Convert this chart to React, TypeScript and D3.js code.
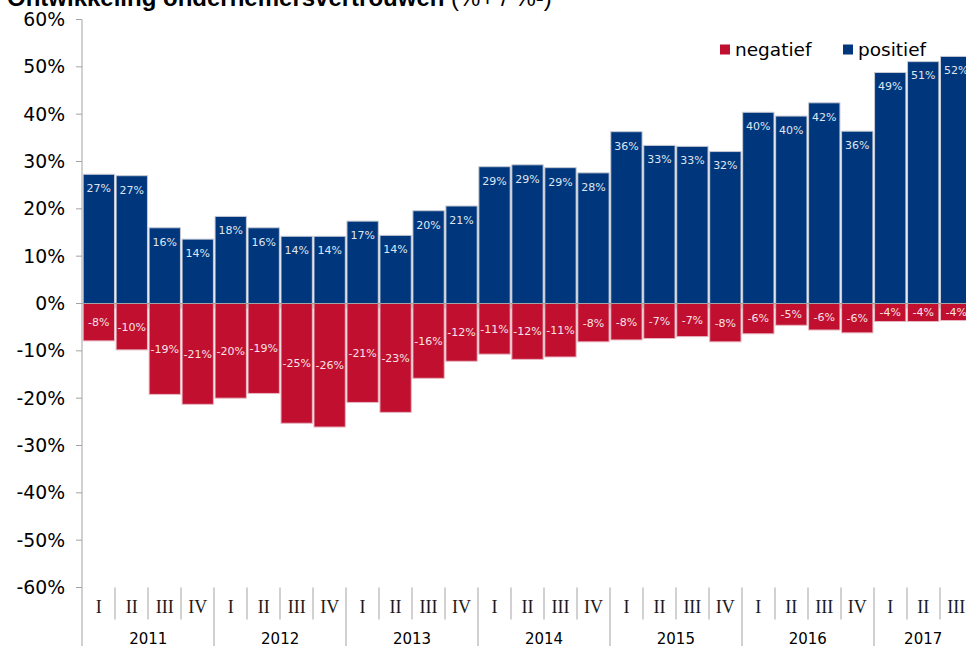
import React from 'react';
import * as d3 from 'd3';

const years = ['2011', '2012', '2013', '2014', '2015', '2016', '2017'];
const quarters = ['I', 'II', 'III', 'IV'];
// 2011-I t/m 2017-III
const positief = [
  27.3, 27.0, 16.0, 13.6, 18.4, 16.0, 14.2, 14.2, 17.4, 14.4, 19.6, 20.6,
  28.9, 29.3, 28.7, 27.6, 36.3, 33.4, 33.2, 32.1, 40.4, 39.6, 42.4, 36.4,
  48.8, 51.1, 52.2,
];
const negatief = [
  -7.9, -9.8, -19.2, -21.3, -20.0, -19.0, -25.3, -26.1, -20.9, -23.0, -15.8, -12.2,
  -10.7, -11.8, -11.3, -8.1, -7.7, -7.4, -7.0, -8.1, -6.4, -4.6, -5.6, -6.2,
  -3.8, -3.8, -3.6,
];
const yTicks = [60, 50, 40, 30, 20, 10, 0, -10, -20, -30, -40, -50, -60];

const BLUE = '#00377c';
const RED = '#c10f2f';
const AXIS = '#a3a3a3';

const periods = positief.map((_, i) => ({
  key: `${years[Math.floor(i / 4)]}-${quarters[i % 4]}`,
  year: years[Math.floor(i / 4)],
  q: quarters[i % 4],
  pos: positief[i],
  neg: negatief[i],
}));

export default function App() {
  const width = 966;
  const height = 646;
  const left = 82;
  const step = 33;

  const x = d3
    .scaleBand<string>()
    .domain(periods.map(d => d.key))
    .range([left, left + step * periods.length])
    .paddingInner(0.05)
    .paddingOuter(0.035);

  const y = d3.scaleLinear().domain([-60, 60]).range([587.5, 19.5]);
  const fmt = (v: number) => `${Math.round(v)}%`;
  const axisBottom = 587.5;

  const yearGroups = d3.groups(periods, d => d.year);

  return (
    <svg
      width={width}
      height={height}
      style={{ position: 'absolute', left: 0, top: 0, background: '#fff' }}
    >
      {/* titel, bovenkant valt buiten beeld */}
      <text x={7} y={5.5} fontFamily="Liberation Sans, Arial, sans-serif" fontSize={24} fill="#000">
        <tspan fontWeight="bold">Ontwikkeling ondernemersvertrouwen</tspan>
        <tspan> (%+ / %-)</tspan>
      </text>

      {/* y-as */}
      <line x1={left} x2={left} y1={y(60)} y2={height} stroke={AXIS} />
      {yTicks.map(t => (
        <g key={t}>
          <line x1={left - 6} x2={left} y1={y(t)} y2={y(t)} stroke={AXIS} />
          <text
            x={65}
            y={y(t)}
            dy="0.35em"
            textAnchor="end"
            fontFamily="DejaVu Sans, Verdana, sans-serif"
            fontSize={18.8}
            fill="#000"
          >
            {t}%
          </text>
        </g>
      ))}

      {/* balken */}
      {periods.map(d => (
        <g key={d.key}>
          <rect
            x={x(d.key)}
            y={y(d.pos)}
            width={x.bandwidth()}
            height={y(0) - y(d.pos)}
            fill={BLUE}
            stroke="#c6cad4"
            strokeWidth={1}
          />
          <rect
            x={x(d.key)}
            y={y(0)}
            width={x.bandwidth()}
            height={y(d.neg) - y(0)}
            fill={RED}
            stroke="#e6b8c2"
            strokeWidth={1}
          />
        </g>
      ))}

      {/* nullijn met streepjes */}
      <line x1={left - 6} x2={width} y1={y(0)} y2={y(0)} stroke={AXIS} />
      {periods.map((d, i) =>
        i === 0 ? null : (
          <line
            key={d.key}
            x1={left + i * step}
            x2={left + i * step}
            y1={y(0)}
            y2={y(0) + 5}
            stroke={AXIS}
          />
        )
      )}

      {/* labels */}
      {periods.map(d => (
        <g key={d.key} fontFamily="DejaVu Sans, Verdana, sans-serif" fontSize={11} textAnchor="middle">
          <text x={x(d.key)! + x.bandwidth() / 2} y={y(d.pos) + 14} dy="0.35em" fill="#dfe5f0">
            {fmt(d.pos)}
          </text>
          <text x={x(d.key)! + x.bandwidth() / 2} y={(y(0) + y(d.neg)) / 2} dy="0.35em" fill="#f8e2e6">
            {fmt(d.neg)}
          </text>
        </g>
      ))}

      {/* categorie-as */}
      {periods.map((d, i) => {
        const bx = left + i * step;
        const isYear = i % 4 === 0;
        return (
          <g key={d.key}>
            {i > 0 && (
              <line
                x1={bx}
                x2={bx}
                y1={axisBottom}
                y2={isYear ? height : axisBottom + 32}
                stroke={AXIS}
              />
            )}
            <text
              x={x(d.key)! + x.bandwidth() / 2}
              y={607}
              dy="0.35em"
              textAnchor="middle"
              fontFamily="Liberation Serif, Times New Roman, serif"
              fontSize={18}
              fill="#1a1a1a"
            >
              {d.q}
            </text>
          </g>
        );
      })}
      {yearGroups.map(([yr, items]) => {
        const x0 = x(items[0].key)! - (x.step() - x.bandwidth()) / 2;
        const x1 = x(items[items.length - 1].key)! + x.bandwidth() + (x.step() - x.bandwidth()) / 2;
        return (
          <text
            key={yr}
            x={(x0 + x1) / 2}
            y={639}
            dy="0.35em"
            textAnchor="middle"
            fontFamily="DejaVu Sans, Verdana, sans-serif"
            fontSize={15}
            fill="#000"
          >
            {yr}
          </text>
        );
      })}

      {/* legenda */}
      <g fontFamily="DejaVu Sans, Verdana, sans-serif" fontSize={18.5} fill="#000">
        <rect x={720} y={44.5} width={10} height={10} fill={RED} />
        <text x={735} y={56}>negatief</text>
        <rect x={843} y={44.5} width={10} height={10} fill={BLUE} />
        <text x={858} y={56}>positief</text>
      </g>
    </svg>
  );
}
